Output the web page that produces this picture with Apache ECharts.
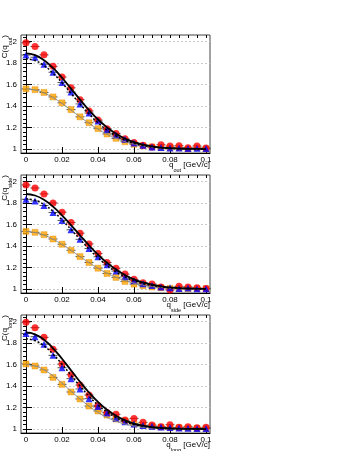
<!DOCTYPE html>
<html>
<head>
<meta charset="utf-8">
<script src="https://cdn.jsdelivr.net/npm/echarts@6/dist/echarts.min.js"></script>
<style>
  html, body { margin: 0; padding: 0; background: #fff; }
  #chart { width: 349px; height: 451px; }
</style>
</head>
<body>
<div id="chart"></div>
<script>
// q bins (GeV/c)
var qBins = [0, 0.005, 0.01, 0.015, 0.02, 0.025, 0.03, 0.035, 0.04, 0.045, 0.05,
  0.055, 0.06, 0.065, 0.07, 0.075, 0.08, 0.085, 0.09, 0.095, 0.1];

// q_out
var outRed = [1.99, 1.955, 1.877, 1.77, 1.67, 1.57, 1.46, 1.355, 1.27, 1.19, 1.145, 1.095, 1.06, 1.035, 1.02, 1.04, 1.028, 1.03, 1.012, 1.028, 1.01];
var outBlue = [1.875, 1.855, 1.79, 1.715, 1.62, 1.53, 1.42, 1.335, 1.26, 1.18, 1.13, 1.09, 1.055, 1.035, 1.02, 1.015, 1.01, 1.01, 1.005, 1.008, 1.005];
var outOrange = [1.56, 1.553, 1.527, 1.485, 1.43, 1.367, 1.30, 1.245, 1.19, 1.14, 1.10, 1.068, 1.044, 1.03, 1.02, 1.012, 1.01, 1.01, 1.0, 1.01, 1.0];
var outFitRed = [1.89, 1.874, 1.827, 1.755, 1.664, 1.563, 1.46, 1.362, 1.275, 1.202, 1.142, 1.097, 1.064, 1.04, 1.024, 1.014, 1.008, 1.004, 1.002, 1.001, 1.0];
var outFitBlue = [1.84, 1.824, 1.778, 1.706, 1.617, 1.519, 1.42, 1.327, 1.245, 1.176, 1.123, 1.082, 1.053, 1.032, 1.019, 1.011, 1.006, 1.003, 1.002, 1.001, 1.0];
var outFitOrange = [1.56, 1.55, 1.522, 1.479, 1.424, 1.363, 1.30, 1.24, 1.185, 1.138, 1.099, 1.069, 1.046, 1.03, 1.019, 1.011, 1.007, 1.004, 1.002, 1.001, 1.0];

// q_side
var sideRed = [1.969, 1.941, 1.886, 1.802, 1.716, 1.62, 1.52, 1.42, 1.33, 1.247, 1.194, 1.139, 1.09, 1.059, 1.046, 1.02, 0.99, 1.025, 1.02, 1.012, 1.006];
var sideBlue = [1.836, 1.82, 1.778, 1.713, 1.639, 1.552, 1.463, 1.377, 1.30, 1.225, 1.167, 1.114, 1.077, 1.05, 1.034, 1.02, 1.012, 1.006, 1.01, 1.003, 1.003];
var sideOrange = [1.537, 1.528, 1.506, 1.466, 1.417, 1.361, 1.302, 1.247, 1.194, 1.145, 1.108, 1.071, 1.046, 1.031, 1.019, 1.012, 1.006, 1.003, 1.003, 1.003, 1.003];
var sideFitRed = [1.885, 1.871, 1.831, 1.767, 1.687, 1.596, 1.5, 1.407, 1.321, 1.245, 1.181, 1.13, 1.09, 1.061, 1.04, 1.025, 1.015, 1.009, 1.005, 1.003, 1.002];
var sideFitBlue = [1.84, 1.827, 1.786, 1.724, 1.644, 1.555, 1.463, 1.373, 1.291, 1.22, 1.16, 1.113, 1.078, 1.051, 1.033, 1.02, 1.012, 1.007, 1.004, 1.002, 1.001];
var sideFitOrange = [1.535, 1.526, 1.502, 1.464, 1.415, 1.36, 1.302, 1.246, 1.194, 1.148, 1.11, 1.079, 1.055, 1.037, 1.024, 1.015, 1.009, 1.005, 1.003, 1.002, 1.001];

// q_long
var longRed = [1.995, 1.944, 1.854, 1.742, 1.606, 1.506, 1.41, 1.317, 1.22, 1.155, 1.137, 1.084, 1.099, 1.062, 1.037, 1.022, 1.04, 1.016, 1.022, 1.012, 1.016];
var longBlue = [1.89, 1.86, 1.79, 1.686, 1.571, 1.469, 1.373, 1.283, 1.21, 1.15, 1.10, 1.068, 1.047, 1.034, 1.025, 1.02, 1.015, 1.01, 1.008, 1.005, 1.005];
var longOrange = [1.606, 1.587, 1.55, 1.481, 1.416, 1.345, 1.28, 1.214, 1.168, 1.13, 1.093, 1.075, 1.047, 1.034, 1.025, 1.019, 1.012, 1.012, 1.009, 1.006, 1.003];
var longFitRed = [1.9, 1.882, 1.832, 1.752, 1.655, 1.547, 1.44, 1.34, 1.252, 1.18, 1.123, 1.081, 1.051, 1.031, 1.018, 1.01, 1.006, 1.003, 1.001, 1.001, 1.0];
var longFitBlue = [1.84, 1.823, 1.774, 1.697, 1.604, 1.501, 1.40, 1.306, 1.224, 1.158, 1.107, 1.069, 1.043, 1.026, 1.015, 1.008, 1.004, 1.002, 1.001, 1.0, 1.0];
var longFitOrange = [1.6, 1.587, 1.551, 1.496, 1.428, 1.353, 1.28, 1.213, 1.155, 1.108, 1.073, 1.046, 1.029, 1.017, 1.009, 1.005, 1.003, 1.001, 1.001, 1.0, 1.0];

// ticks
var xMajorTicks = [0, 0.02, 0.04, 0.06, 0.08, 0.1];
var xMinorTicks = qBins;
var yMajorTicks = [1, 1.2, 1.4, 1.6, 1.8, 2];
var yMinorTicks = [0.96, 1.0, 1.04, 1.08, 1.12, 1.16, 1.2, 1.24, 1.28, 1.32, 1.36, 1.4, 1.44, 1.48,
  1.52, 1.56, 1.6, 1.64, 1.68, 1.72, 1.76, 1.8, 1.84, 1.88, 1.92, 1.96, 2.0, 2.04];

var panels = [
  { sub: 'out', red: outRed, blue: outBlue, orange: outOrange, fitRed: outFitRed, fitBlue: outFitBlue, fitOrange: outFitOrange },
  { sub: 'side', red: sideRed, blue: sideBlue, orange: sideOrange, fitRed: sideFitRed, fitBlue: sideFitBlue, fitOrange: sideFitOrange },
  { sub: 'long', red: longRed, blue: longBlue, orange: longOrange, fitRed: longFitRed, fitBlue: longFitBlue, fitOrange: longFitOrange }
];

var FONT = 'Liberation Sans, Arial, sans-serif';
var binHalf = 0.0025;
var gridLeft = 21, gridW = 189, gridH = 118;
var gridTops = [35, 175, 315];

function pairs(ys) {
  return ys.map(function (y, i) { return [qBins[i], y]; });
}

var grids = [], xAxes = [], yAxes = [], series = [], graphics = [];

panels.forEach(function (p, k) {
  grids.push({
    left: gridLeft, top: gridTops[k], width: gridW, height: gridH,
    show: true, borderColor: '#444', borderWidth: 1, backgroundColor: 'transparent'
  });
  // major x
  xAxes.push({
    type: 'value', gridIndex: k, min: -0.00278, max: 0.10222,
    axisLine: { lineStyle: { color: '#000', width: 1 } },
    axisTick: { inside: true, length: 6, customValues: xMajorTicks, lineStyle: { color: '#000' } },
    axisLabel: { customValues: xMajorTicks, fontSize: 8, fontFamily: FONT, color: '#000', margin: 3 },
    splitLine: { show: false }
  });
  // minor x
  xAxes.push({
    type: 'value', gridIndex: k, min: -0.00278, max: 0.10222,
    axisLine: { show: false },
    axisTick: { inside: true, length: 3, customValues: xMinorTicks, lineStyle: { color: '#000' } },
    axisLabel: { show: false },
    splitLine: { show: false }
  });
  // major y
  yAxes.push({
    type: 'value', gridIndex: k, min: 0.963, max: 2.062,
    axisLine: { show: true, lineStyle: { color: '#000', width: 1 } },
    axisTick: { show: true, inside: true, length: 6, customValues: yMajorTicks, lineStyle: { color: '#000' } },
    axisLabel: { customValues: yMajorTicks, fontSize: 8, fontFamily: FONT, color: '#000', margin: 4 },
    splitLine: { show: true, lineStyle: { color: '#c8c8c8', width: 1, type: [2, 2] } }
  });
  // minor y
  yAxes.push({
    type: 'value', gridIndex: k, min: 0.963, max: 2.062,
    axisLine: { show: false },
    axisTick: { show: true, inside: true, length: 3, customValues: yMinorTicks, lineStyle: { color: '#000' } },
    axisLabel: { show: false },
    splitLine: { show: false }
  });

  var xi = 2 * k, yi = 2 * k;

  [p.orange, p.blue, p.red].forEach(function (arr) {
    series.push({
      type: 'custom', xAxisIndex: xi, yAxisIndex: yi, z: 2, silent: true,
      data: pairs(arr),
      renderItem: function (params, api) {
        var x = api.value(0), y = api.value(1);
        var a = api.coord([x - binHalf, y]);
        var b = api.coord([x + binHalf, y]);
        return {
          type: 'line',
          shape: { x1: a[0], y1: a[1], x2: b[0], y2: b[1] },
          style: { stroke: '#555', lineWidth: 1 }
        };
      }
    });
  });

  series.push({
    type: 'scatter', xAxisIndex: xi, yAxisIndex: yi, z: 3,
    symbol: 'rect', symbolSize: 6, data: pairs(p.orange),
    itemStyle: { color: '#ffa500', borderColor: '#e08a00', borderWidth: 0.5 }
  });
  series.push({
    type: 'scatter', xAxisIndex: xi, yAxisIndex: yi, z: 3,
    symbol: 'circle', symbolSize: 7, data: pairs(p.red),
    itemStyle: { color: '#ff0000' }
  });
  series.push({
    type: 'scatter', xAxisIndex: xi, yAxisIndex: yi, z: 3,
    symbol: 'triangle', symbolSize: 7, data: pairs(p.blue),
    itemStyle: { color: '#0000ff' }
  });

  series.push({
    type: 'line', xAxisIndex: xi, yAxisIndex: yi, z: 4, smooth: true, showSymbol: false,
    data: pairs(p.fitOrange), lineStyle: { color: '#888', width: 1 }
  });
  series.push({
    type: 'line', xAxisIndex: xi, yAxisIndex: yi, z: 4, smooth: true, showSymbol: false,
    data: pairs(p.fitBlue), lineStyle: { color: '#000', width: 1.5, type: [2, 2] }
  });
  series.push({
    type: 'line', xAxisIndex: xi, yAxisIndex: yi, z: 4, smooth: true, showSymbol: false,
    data: pairs(p.fitRed), lineStyle: { color: '#000', width: 1.8 }
  });

  // axis titles
  graphics.push({
    type: 'text', x: gridLeft + gridW, y: gridTops[k] + gridH + 14,
    style: {
      text: '{m|q}{s|' + p.sub + '}{m| [GeV/c]}',
      align: 'right', verticalAlign: 'middle',
      rich: {
        m: { fontSize: 8, fontFamily: FONT, fill: '#000', lineHeight: 12, verticalAlign: 'top' },
        s: { fontSize: 5.5, fontFamily: FONT, fill: '#000', lineHeight: 7, verticalAlign: 'bottom' }
      }
    }
  });
  graphics.push({
    type: 'text', x: 7, y: gridTops[k], rotation: Math.PI / 2,
    style: {
      text: '{m|C(q}{s|' + p.sub + '}{m|)}',
      align: 'right', verticalAlign: 'middle',
      rich: {
        m: { fontSize: 8, fontFamily: FONT, fill: '#000', lineHeight: 12, verticalAlign: 'top' },
        s: { fontSize: 5.5, fontFamily: FONT, fill: '#000', lineHeight: 7, verticalAlign: 'bottom' }
      }
    }
  });
});

var chart = echarts.init(document.getElementById('chart'), null, { renderer: 'canvas', width: 349, height: 451 });
chart.setOption({
  backgroundColor: '#fff',
  animation: false,
  grid: grids,
  xAxis: xAxes,
  yAxis: yAxes,
  series: series,
  graphic: graphics
});
</script>
</body>
</html>
